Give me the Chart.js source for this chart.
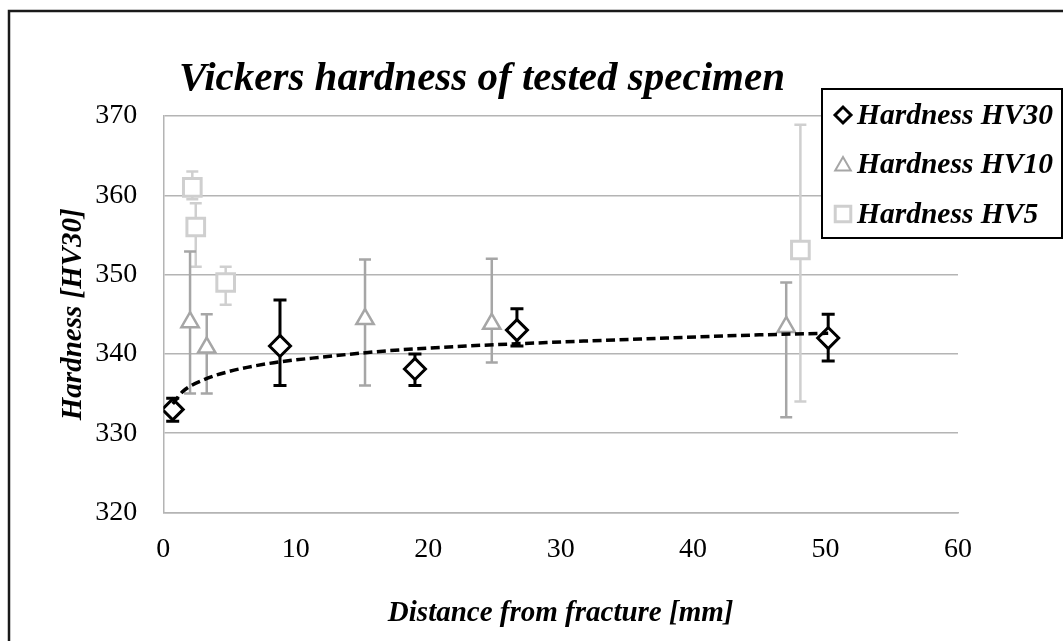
<!DOCTYPE html>
<html><head><meta charset="utf-8">
<script src="https://cdn.jsdelivr.net/npm/chart.js@4.4.1/dist/chart.umd.min.js"></script>
<style>html,body{margin:0;padding:0;background:#fff;} #wrap{width:1063px;height:641px;position:relative;}</style>
</head><body><div id="wrap"><canvas id="c" width="1063" height="641"></canvas></div>
<script>
const titleText = 'Vickers hardness of tested specimen';
const xAxisTitle = 'Distance from fracture [mm]';
const yAxisTitle = 'Hardness [HV30]';
const xTicks = [0, 10, 20, 30, 40, 50, 60];
const yTicks = [320, 330, 340, 350, 360, 370];
const seriesNames = ['Hardness HV30', 'Hardness HV10', 'Hardness HV5'];

const hv30X = [0.71, 8.81, 19.0, 26.7, 50.2];
const hv30Y = [333.0, 341.0, 338.1, 343.0, 342.0];
const hv30Hi = [334.4, 346.8, 340.0, 345.7, 345.0];
const hv30Lo = [331.5, 336.0, 336.0, 341.0, 339.1];

const hv10X = [2.02, 3.28, 15.23, 24.8, 47.03];
const hv10Y = [344.0, 340.8, 344.4, 343.8, 343.4];
const hv10Hi = [352.9, 345.0, 351.9, 352.0, 349.0];
const hv10Lo = [335.0, 335.0, 336.0, 338.9, 332.0];

const hv5X = [2.19, 2.45, 4.71, 48.1];
const hv5Y = [361.0, 356.0, 349.0, 353.1];
const hv5Hi = [363.0, 359.0, 351.0, 368.9];
const hv5Lo = [359.5, 351.0, 346.2, 334.0];

const trendX = [0.71, 1.5, 3, 5, 8, 12, 17, 23, 30, 38, 45, 50.2];
const trendY = [333.7, 335.3, 336.7, 337.8, 338.8, 339.6, 340.4, 341.0, 341.5, 342.0, 342.4, 342.6];

const SERIF = '"Liberation Serif", "Times New Roman", serif';
const GRID = '#b4b4b4';
const C30 = '#000000', C10 = '#a6a6a6', C5 = '#cfcfcf';

function pts(xs, ys) { return xs.map((x, i) => ({ x: x, y: ys[i] })); }

const errorBars = {
  id: 'errorBars',
  beforeDatasetsDraw(chart) {
    const ctx = chart.ctx, xs = chart.scales.x, ys = chart.scales.y;
    const groups = [
      { x: hv5X, hi: hv5Hi, lo: hv5Lo, color: C5, w: 2.5, cap: 6 },
      { x: hv10X, hi: hv10Hi, lo: hv10Lo, color: C10, w: 2.5, cap: 6 },
      { x: hv30X, hi: hv30Hi, lo: hv30Lo, color: C30, w: 3, cap: 6.5 }
    ];
    ctx.save();
    groups.forEach(g => {
      ctx.strokeStyle = g.color; ctx.lineWidth = g.w; ctx.lineCap = 'butt';
      g.x.forEach((xv, i) => {
        const px = xs.getPixelForValue(xv);
        const pt = ys.getPixelForValue(g.hi[i]);
        const pb = ys.getPixelForValue(g.lo[i]);
        ctx.beginPath();
        ctx.moveTo(px, pt); ctx.lineTo(px, pb);
        ctx.moveTo(px - g.cap, pt); ctx.lineTo(px + g.cap, pt);
        ctx.moveTo(px - g.cap, pb); ctx.lineTo(px + g.cap, pb);
        ctx.stroke();
      });
    });
    ctx.restore();
  }
};

const decorations = {
  id: 'decorations',
  afterDraw(chart) {
    const ctx = chart.ctx;
    ctx.save();
    // outer frame
    ctx.strokeStyle = '#1a1a1a'; ctx.lineWidth = 2.5;
    ctx.beginPath(); ctx.moveTo(9, 645); ctx.lineTo(9, 11); ctx.lineTo(1070, 11); ctx.stroke();
    ctx.fillStyle = '#000';
    // title
    ctx.font = 'italic bold 41px ' + SERIF;
    ctx.textAlign = 'center'; ctx.textBaseline = 'alphabetic';
    ctx.fillText(titleText, 482, 90);
    // x title
    const ca = chart.chartArea;
    ctx.font = 'italic bold 29px ' + SERIF;
    ctx.fillText(xAxisTitle, (ca.left + ca.right) / 2, 621);
    // y title
    ctx.save();
    ctx.translate(81, (ca.top + ca.bottom) / 2);
    ctx.rotate(-Math.PI / 2);
    ctx.fillText(yAxisTitle, 0, 0);
    ctx.restore();
    // legend
    ctx.fillStyle = '#fff';
    ctx.fillRect(822, 89, 240, 149);
    ctx.strokeStyle = '#000'; ctx.lineWidth = 2;
    ctx.strokeRect(822, 89, 240, 149);
    const rows = [115, 164, 214];
    const styles = [
      { ps: 'rectRot', r: 8, c: C30, w: 3 },
      { ps: 'triangle', r: 9, c: C10, w: 2 },
      { ps: 'rect', r: 11, c: C5, w: 3 }
    ];
    styles.forEach((s, i) => {
      ctx.strokeStyle = s.c; ctx.fillStyle = '#fff'; ctx.lineWidth = s.w;
      Chart.helpers.drawPoint(ctx, { pointStyle: s.ps, radius: s.r, borderWidth: s.w, rotation: 0 }, 843, rows[i] + (s.ps === 'triangle' ? 2 : 0));
      ctx.fillStyle = '#000';
      ctx.font = 'italic bold 29.5px ' + SERIF;
      ctx.textAlign = 'left'; ctx.textBaseline = 'alphabetic';
      ctx.fillText(seriesNames[i], 857, rows[i] + 9);
    });
    ctx.restore();
  }
};

new Chart(document.getElementById('c'), {
  type: 'scatter',
  data: {
    datasets: [
      {
        label: 'Log trend (HV30)', data: pts(trendX, trendY), showLine: true,
        borderColor: '#000', borderWidth: 3.5, borderDash: [9, 4.5], pointRadius: 0,
        cubicInterpolationMode: 'monotone', fill: false, order: 0
      },
      {
        label: seriesNames[0], data: pts(hv30X, hv30Y), pointStyle: 'rectRot', pointRadius: 10.5,
        pointBorderWidth: 3, pointBorderColor: C30, pointBackgroundColor: '#fff', order: 1
      },
      {
        label: seriesNames[1], data: pts(hv10X, hv10Y), pointStyle: 'triangle', pointRadius: 10,
        pointBorderWidth: 2.5, pointBorderColor: C10, pointBackgroundColor: '#fff', order: 2
      },
      {
        label: seriesNames[2], data: pts(hv5X, hv5Y), pointStyle: 'rect', pointRadius: 12.5,
        pointBorderWidth: 3, pointBorderColor: C5, pointBackgroundColor: '#fff', order: 3
      }
    ]
  },
  options: {
    responsive: false, animation: false, devicePixelRatio: 1,
    layout: { padding: { top: 116, right: 105, left: 0, bottom: 0 } },
    plugins: { legend: { display: false }, title: { display: false }, tooltip: { enabled: false } },
    scales: {
      x: {
        type: 'linear', min: 0, max: 60,
        afterBuildTicks: s => { s.ticks = xTicks.map(v => ({ value: v })); },
        ticks: { font: { family: SERIF, size: 28 }, color: '#000', padding: 20, maxRotation: 0 },
        grid: { display: false, drawTicks: false },
        border: { display: true, color: GRID, width: 1.5 },
        afterFit: s => { s.height = 128.5; }
      },
      y: {
        type: 'linear', min: 320, max: 370,
        afterBuildTicks: s => { s.ticks = yTicks.map(v => ({ value: v })); },
        ticks: { font: { family: SERIF, size: 28 }, color: '#000', padding: 26 },
        grid: { color: GRID, lineWidth: 1.5, drawTicks: false },
        border: { display: true, color: GRID, width: 1.5 },
        afterFit: s => { s.width = 163.3; }
      }
    }
  },
  plugins: [errorBars, decorations]
});
</script>
</body></html>
